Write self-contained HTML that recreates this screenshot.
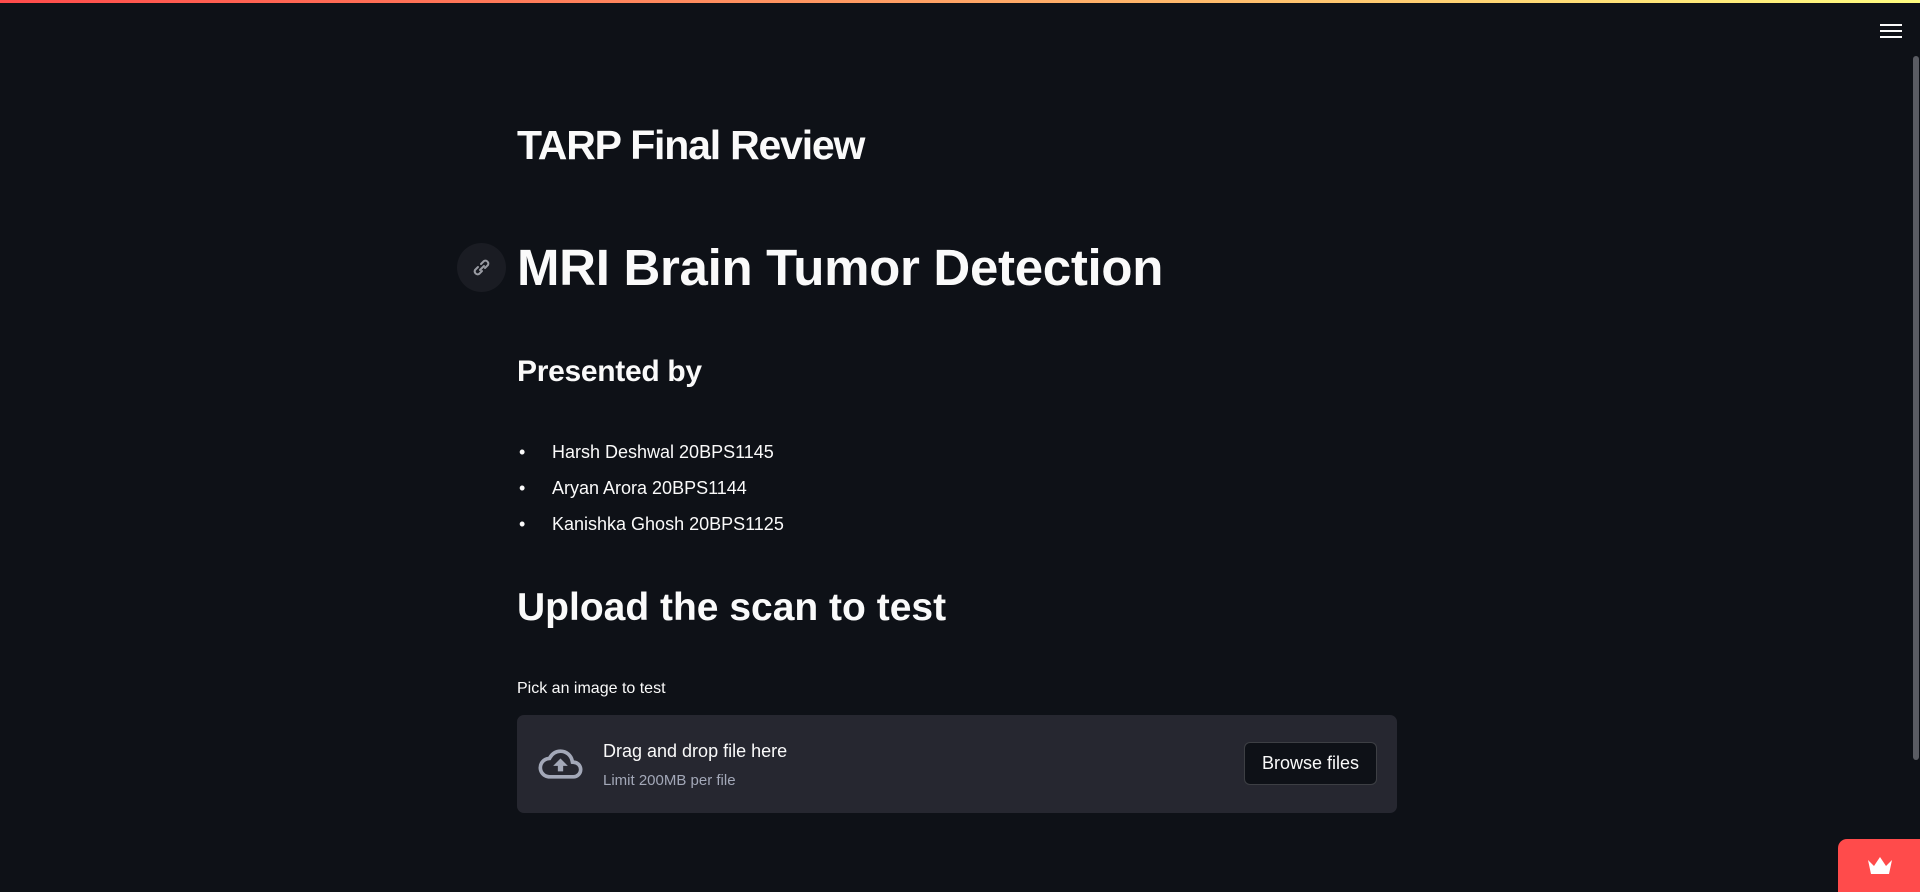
<!DOCTYPE html>
<html><head><meta charset="utf-8"><style>
*{margin:0;padding:0;box-sizing:border-box}
body{width:1920px;height:892px;background:#0e1117;color:#fafafa;font-family:"Liberation Sans",sans-serif;position:relative;overflow:hidden}
.abs{position:absolute;white-space:nowrap}
</style></head><body>
<div class="abs" style="left:0;top:0;width:1920px;height:3px;background:linear-gradient(90deg,#ff4b4b,#fffd80)"></div>
<div class="abs" style="left:1880px;top:22px;width:22px;height:18px">
 <div style="height:2px;background:#fafafa;margin-top:2px"></div><div style="height:2px;background:#fafafa;margin-top:4px"></div><div style="height:2px;background:#fafafa;margin-top:4px"></div>
</div>
<div class="abs" style="left:1913px;top:56px;width:6px;height:704px;background:#5a5c63;border-radius:3px"></div>

<div class="abs" style="left:517px;top:121px;font-size:41px;font-weight:bold;letter-spacing:-1.2px;line-height:48px">TARP Final Review</div>

<div class="abs" style="left:457px;top:243px;width:49px;height:49px;border-radius:50%;background:#1a1c23">
 <svg width="49" height="49" viewBox="0 0 49 49"><g fill="none" stroke="#9a9ca3" stroke-width="2" stroke-linecap="round"><path d="M23 27l4-4"/><path d="M21 24l-3 3a3 3 0 0 0 4 4l3-3"/><path d="M28 25l3-3a3 3 0 0 0-4-4l-3 3"/></g></svg>
</div>
<div class="abs" style="left:517px;top:238px;font-size:51px;font-weight:bold;letter-spacing:-0.3px;line-height:60px">MRI Brain Tumor Detection</div>

<div class="abs" style="left:517px;top:354px;font-size:30px;font-weight:bold;letter-spacing:-0.3px;line-height:36px">Presented by</div>

<ul>
 <li class="abs" style="left:519px;top:441px;font-size:18px;line-height:22px;list-style:none"><span style="display:inline-block;width:33px">•</span>Harsh Deshwal 20BPS1145</li>
 <li class="abs" style="left:519px;top:477px;font-size:18px;line-height:22px;list-style:none"><span style="display:inline-block;width:33px">•</span>Aryan Arora 20BPS1144</li>
 <li class="abs" style="left:519px;top:513px;font-size:18px;line-height:22px;list-style:none"><span style="display:inline-block;width:33px">•</span>Kanishka Ghosh 20BPS1125</li>
</ul>

<div class="abs" style="left:517px;top:585px;font-size:39px;font-weight:bold;letter-spacing:0px;line-height:46px">Upload the scan to test</div>

<div class="abs" style="left:517px;top:679px;font-size:16px;line-height:20px">Pick an image to test</div>

<div class="abs" style="left:517px;top:715px;width:880px;height:98px;background:#262730;border-radius:7px">
 <svg class="abs" style="left:20px;top:27px" width="47" height="44" viewBox="0 0 24 24"><path fill="#a3a8b8" d="M19.35 10.04A7.49 7.49 0 0 0 12 4C9.11 4 6.6 5.64 5.35 8.04A5.994 5.994 0 0 0 0 14c0 3.31 2.690 6 6 6h13c2.76 0 5-2.24 5-5 0-2.640-2.050-4.780-4.650-4.960zM19 18H6c-2.210 0-4-1.790-4-4 0-2.050 1.530-3.760 3.560-3.970l1.070-.110.500-.950A5.469 5.469 0 0 1 12 6c2.620 0 4.880 1.860 5.390 4.430l.300 1.500 1.530.110A2.980 2.980 0 0 1 22 15c0 1.650-1.350 3-3 3zM8 13h2.550v3h2.900v-3H16l-4-4z"/></svg>
 <div class="abs" style="left:86px;top:25px;font-size:18px;line-height:22px">Drag and drop file here</div>
 <div class="abs" style="left:86px;top:57px;font-size:15px;line-height:18px;color:#a3a8b8">Limit 200MB per file</div>
 <div class="abs" style="left:727px;top:27px;width:133px;height:43px;background:#0e1117;border:1px solid rgba(250,250,250,0.2);border-radius:6px;font-size:18px;line-height:41px;text-align:center">Browse files</div>
</div>

<div class="abs" style="left:1838px;top:839px;width:82px;height:53px;background:#ff4b4b;border-top-left-radius:9px">
 <svg class="abs" style="left:28px;top:17px" width="28" height="20" viewBox="0 0 28 20"><path fill="#fff" d="M2 4l6 6 6-9 6 9 6-6-3 14H5z"/></svg>
</div>
</body></html>
